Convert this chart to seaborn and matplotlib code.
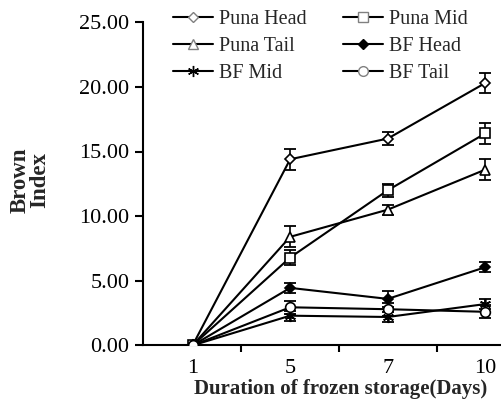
import numpy as np
import pandas as pd
import matplotlib
matplotlib.use("Agg")
import matplotlib.pyplot as plt
import seaborn as sns
from matplotlib.ticker import MultipleLocator, FormatStrFormatter, FixedLocator

days = ["1", "5", "7", "10"]
series = ["Puna Head", "Puna Mid", "Puna Tail", "BF Head", "BF Mid", "BF Tail"]
puna_head = [0.0, 14.4, 16.0, 20.3]
puna_mid = [0.0, 6.8, 12.0, 16.4]
puna_tail = [0.0, 8.4, 10.5, 13.6]
bf_head = [0.0, 4.45, 3.6, 6.05]
bf_mid = [0.0, 2.3, 2.2, 3.2]
bf_tail = [0.0, 2.95, 2.8, 2.6]
puna_head_err = [0.0, 0.8, 0.5, 0.8]
puna_mid_err = [0.0, 0.6, 0.5, 0.8]
puna_tail_err = [0.0, 0.8, 0.4, 0.8]
bf_head_err = [0.0, 0.4, 0.6, 0.4]
bf_mid_err = [0.0, 0.4, 0.4, 0.4]
bf_tail_err = [0.0, 0.5, 0.5, 0.5]

values = [puna_head, puna_mid, puna_tail, bf_head, bf_mid, bf_tail]
errors = [puna_head_err, puna_mid_err, puna_tail_err, bf_head_err, bf_mid_err, bf_tail_err]

rows = []
for name, vals, errs in zip(series, values, errors):
    for i, (v, e) in enumerate(zip(vals, errs)):
        rows.append({"pos": i, "day": days[i], "series": name, "value": v, "err": e})
df = pd.DataFrame(rows)

sns.set_theme(style="ticks")
plt.rcParams["font.family"] = ["Liberation Serif", "DejaVu Serif"]

markers = {"Puna Head": "D", "Puna Mid": "s", "Puna Tail": "^",
           "BF Head": "D", "BF Mid": (6, 2, 0), "BF Tail": "o"}
sizes = {"Puna Head": 5.5, "Puna Mid": 7, "Puna Tail": 7,
         "BF Head": 5.5, "BF Mid": 8, "BF Tail": 7}

fig, ax = plt.subplots(figsize=(5.01, 4.04), dpi=100)

handles = {}
for name in series:
    sub = df[df["series"] == name]
    ax.errorbar(sub["pos"], sub["value"], yerr=sub["err"], fmt="none",
                ecolor="black", elinewidth=1.2, capsize=4.5, capthick=1.3, zorder=2)
    filled = name == "BF Head"
    sns.lineplot(data=sub, x="pos", y="value", ax=ax, color="black", linewidth=1.5,
                 marker=markers[name], markersize=sizes[name],
                 markerfacecolor="black" if filled else "white",
                 markeredgecolor="black", markeredgewidth=1.2, zorder=3)
    handles[name] = plt.Line2D([], [], color="black", linewidth=1.5, marker=markers[name],
                               markersize=sizes[name],
                               markerfacecolor="black" if filled else "white",
                               markeredgecolor="black" if (filled or name == "BF Mid") else "gray",
                               markeredgewidth=1.0)

# legend is filled row by row in the reference
order = ["Puna Head", "Puna Tail", "BF Mid", "Puna Mid", "BF Head", "BF Tail"]
ax.legend([handles[n] for n in order], order, ncol=2, frameon=False, loc="upper left",
          bbox_to_anchor=(0.033, 1.093), fontsize=14.5, handlelength=2.0,
          handletextpad=0.3, columnspacing=1.8, labelspacing=0.38)

ax.set_xlim(-0.51, 3.15)
ax.set_ylim(0, 25)
ax.set_xticks(range(len(days)))
ax.set_xticklabels(days)
ax.xaxis.set_minor_locator(FixedLocator([0.5, 1.5, 2.5]))
ax.tick_params(axis="x", which="major", length=0, labelsize=16, pad=10, colors="black")
ax.tick_params(axis="x", which="minor", length=5, width=1.5, direction="out", colors="black")
ax.yaxis.set_major_locator(MultipleLocator(5))
ax.yaxis.set_major_formatter(FormatStrFormatter("%.2f"))
ax.tick_params(axis="y", length=6, width=1.5, direction="out", labelsize=16, colors="black")

for side in ["right", "top"]:
    ax.spines[side].set_visible(False)
for side in ["left", "bottom"]:
    ax.spines[side].set_linewidth(1.5)
    ax.spines[side].set_color("black")

ax.set_xlabel("Duration of frozen storage(Days)", fontsize=15, fontweight="bold")
ax.xaxis.set_label_coords(0.555, -0.103)
ax.set_ylabel("Brown\nIndex", fontsize=16.5, fontweight="bold", linespacing=0.95)
ax.yaxis.set_label_coords(-0.258, 0.512)

fig.subplots_adjust(left=0.285, right=0.998, top=0.945, bottom=0.145)
fig.savefig("out.png", dpi=100)
